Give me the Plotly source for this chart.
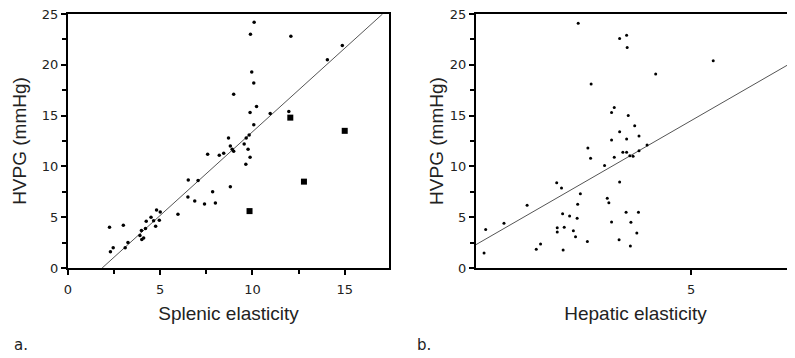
import plotly.graph_objects as go

# Panel a: splenic elasticity vs HVPG
spl_x = [2.25, 3.0, 2.3, 2.45, 3.1, 3.25, 3.9, 4.0, 4.1, 3.98, 4.2, 4.24, 4.5, 4.64, 4.8, 4.75,
         4.95, 5.0, 5.96, 6.5, 6.52, 6.87, 7.05, 7.4, 7.57, 7.84, 7.99, 8.2, 8.44, 8.7, 8.8, 8.8,
         8.9, 8.98, 10.09, 9.89, 12.08, 14.87, 14.06, 9.96, 10.07, 8.98, 10.22, 9.87, 10.96,
         11.97, 10.07, 9.82, 9.66, 9.55, 9.76, 9.87, 9.64]
spl_y = [4.0, 4.2, 1.6, 2.0, 2.0, 2.5, 3.2, 2.8, 2.95, 3.7, 3.9, 4.6, 5.0, 4.66, 5.7, 4.1,
         4.7, 5.5, 5.3, 7.0, 8.66, 6.6, 8.6, 6.3, 11.2, 7.5, 6.4, 11.1, 11.3, 12.8, 12.0, 8.0,
         11.7, 11.5, 24.2, 23.0, 22.8, 21.9, 20.5, 19.3, 18.2, 17.1, 15.9, 15.3, 15.2,
         15.4, 14.1, 13.1, 12.8, 12.2, 11.7, 10.9, 10.2]
spl_sq_x = [12.05, 15.0, 12.79, 9.84]
spl_sq_y = [14.8, 13.5, 8.5, 5.6]
spl_fit_x = [1.85, 17.05]
spl_fit_y = [0.0, 25.0]

# Panel b: hepatic elasticity vs HVPG
hep_x = [1.15, 1.18, 1.52, 1.95, 2.12, 2.20, 2.50, 2.59, 2.51, 2.51, 2.64, 2.61, 2.74, 2.62,
         2.81, 2.88, 2.85, 2.89, 2.94, 3.07, 3.08, 3.13, 3.39, 3.44, 3.47, 2.90, 3.14, 3.67,
         3.80, 3.81, 5.41, 4.34, 3.57, 3.52, 3.83, 3.95, 3.67, 3.52, 3.80, 4.03, 4.18, 4.03,
         3.73, 3.80, 3.86, 3.92, 3.57, 3.67, 3.79, 4.02, 3.52, 3.88, 3.99, 3.66, 3.87]
hep_y = [1.48, 3.8, 4.4, 6.17, 1.84, 2.36, 8.4, 7.87, 3.97, 3.54, 4.0, 5.35, 5.12, 1.77,
         3.67, 4.89, 3.08, 6.27, 7.3, 2.6, 11.8, 10.8, 10.1, 6.86, 6.43, 24.1, 18.1, 22.6,
         22.9, 21.7, 20.4, 19.1, 15.8, 15.3, 15.0, 14.0, 13.4, 12.6, 12.7, 13.0, 12.1, 11.55,
         11.4, 11.4, 11.05, 11.0, 10.9, 8.46, 5.48, 5.48, 4.53, 4.5, 3.44, 2.79, 2.17]
hep_fit_x = [1.0, 6.93]
hep_fit_y = [2.3, 20.4]

y_ticks = [0, 5, 10, 15, 20, 25]
spl_ticks = [0, 5, 10, 15]
hep_ticks = [5]

fig = go.Figure()
fig.add_trace(go.Scatter(x=spl_fit_x, y=spl_fit_y, mode="lines",
                         line=dict(color="#555555", width=1), xaxis="x", yaxis="y"))
fig.add_trace(go.Scatter(x=spl_x, y=spl_y, mode="markers",
                         marker=dict(color="black", size=3.5), xaxis="x", yaxis="y"))
fig.add_trace(go.Scatter(x=spl_sq_x, y=spl_sq_y, mode="markers",
                         marker=dict(color="black", size=6, symbol="square"), xaxis="x", yaxis="y"))
fig.add_trace(go.Scatter(x=hep_fit_x, y=hep_fit_y, mode="lines",
                         line=dict(color="#555555", width=1), xaxis="x2", yaxis="y2"))
fig.add_trace(go.Scatter(x=hep_x, y=hep_y, mode="markers",
                         marker=dict(color="black", size=3), xaxis="x2", yaxis="y2"))

tickfont = dict(family="DejaVu Sans", size=13, color="#222")
titlefont = dict(family="Liberation Sans", size=19, color="#222")
common = dict(showgrid=False, zeroline=False, showline=True, linecolor="black", linewidth=2,
              ticks="outside", ticklen=5, tickwidth=1.5, tickcolor="black", tickfont=tickfont,
              automargin=False, ticklabeloverflow="allow")
minor = dict(dtick=2.5, tick0=0, ticks="outside", ticklen=4, tickcolor="black")

# page body has an 8px margin, so the figure is placed 8px right/down
W, H = 787, 350
ydom = [90 / H, 344 / H]
fig.update_layout(
    width=W, height=H, showlegend=False,
    paper_bgcolor="white", plot_bgcolor="white",
    margin=dict(l=0, r=0, t=0, b=0),
    xaxis=dict(domain=[60 / W, 381 / W], range=[0, 17.4], tickvals=spl_ticks, minor=minor,
               mirror=True, anchor="y", ticklabelstandoff=3,
               title=dict(text="Splenic elasticity", font=titlefont, standoff=11), **common),
    yaxis=dict(domain=ydom, range=[0, 25], tickvals=y_ticks, minor=minor,
               mirror=True, anchor="x",
               title=dict(text="HVPG (mmHg)", font=titlefont, standoff=10), **common),
    xaxis2=dict(domain=[468 / W, 1.0], range=[1, 6.93], tickvals=hep_ticks,
                mirror=True, anchor="y2", ticklabelstandoff=3,
                title=dict(text="Hepatic elasticity", font=titlefont, standoff=11), **common),
    yaxis2=dict(domain=ydom, range=[0, 25], tickvals=y_ticks, minor=minor,
                mirror=False, anchor="x2",
                title=dict(text="HVPG (mmHg)", font=titlefont, standoff=1), **common),
)

fig.add_annotation(text="a.", x=4 / W, y=13 / H, xref="paper", yref="paper",
                   xanchor="left", yanchor="middle", showarrow=False,
                   font=dict(family="DejaVu Sans", size=15, color="#222"))
fig.add_annotation(text="b.", x=407 / W, y=13 / H, xref="paper", yref="paper",
                   xanchor="left", yanchor="middle", showarrow=False,
                   font=dict(family="DejaVu Sans", size=15, color="#222"))

fig.write_html("out.html")
